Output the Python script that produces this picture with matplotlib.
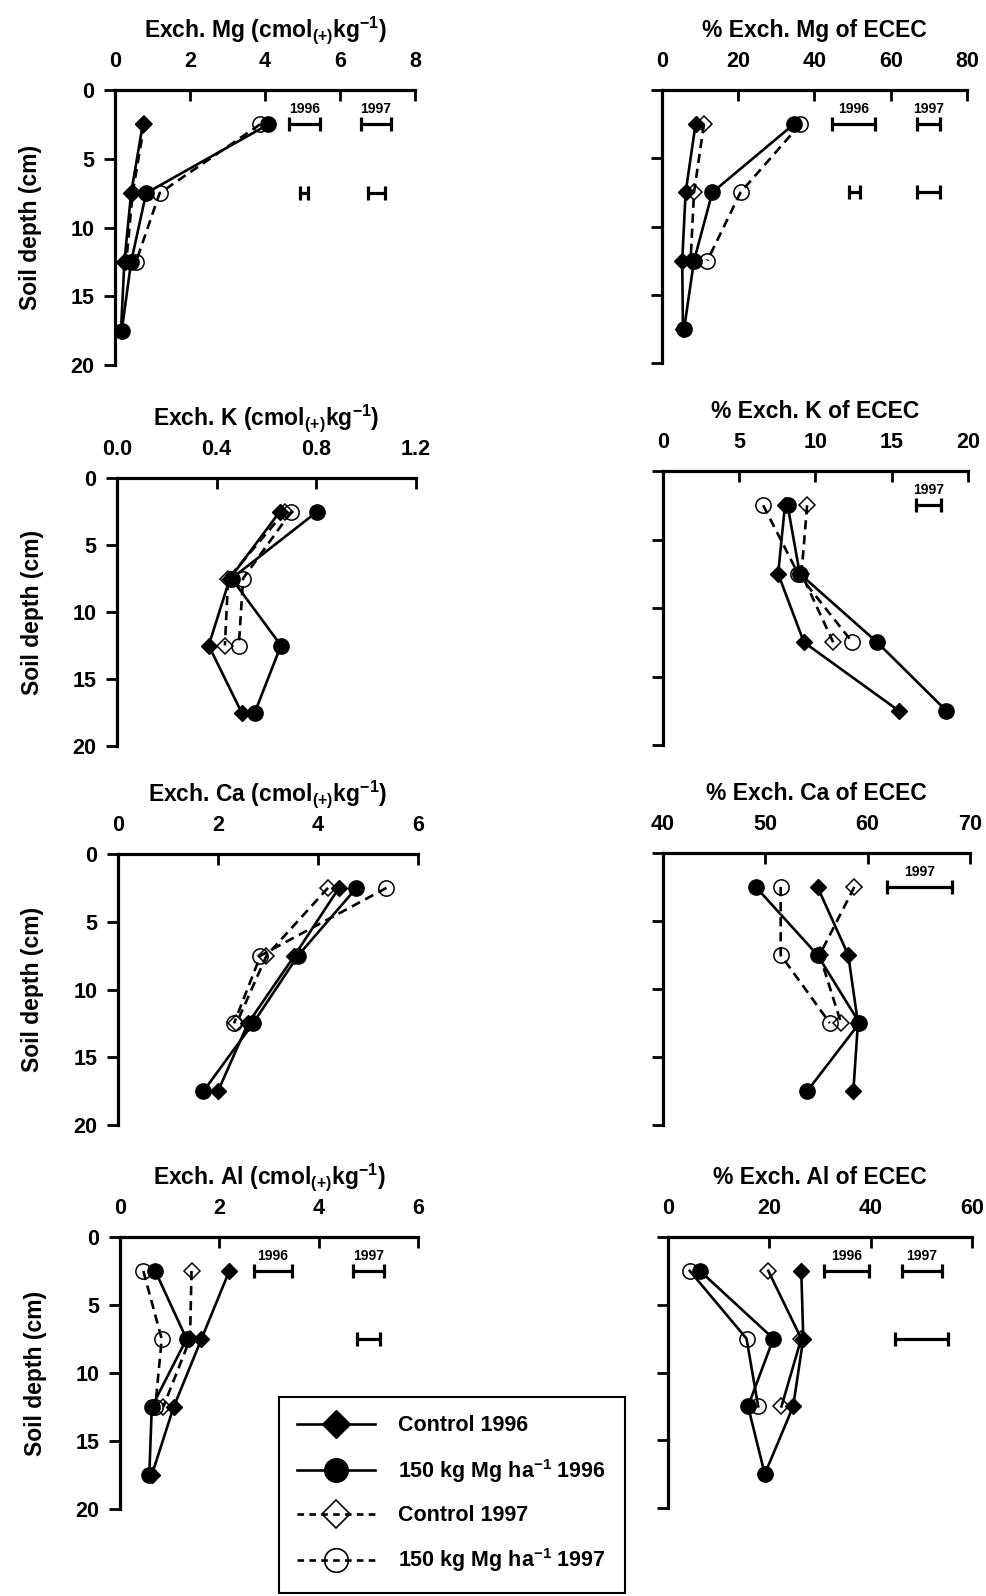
import matplotlib.pyplot as plt
from matplotlib.lines import Line2D

plt.rcParams['font.family'] = 'Liberation Sans'
plt.rcParams['font.weight'] = 'bold'
plt.rcParams['mathtext.fontset'] = 'custom'
plt.rcParams['mathtext.rm'] = 'Liberation Sans:bold'
plt.rcParams['mathtext.bf'] = 'Liberation Sans:bold'
plt.rcParams['mathtext.it'] = 'Liberation Sans:bold'

# sampling depths (cm), 1997 has no 15-20 cm layer
depth96 = [2.5, 7.5, 12.5, 17.5]
depth97 = [2.5, 7.5, 12.5]

# exchangeable Mg
mg_c96 = [0.74, 0.43, 0.25, 0.16]
mg_m96 = [4.09, 0.83, 0.43, 0.18]
mg_c97 = [0.78, 0.47, 0.30]
mg_m97 = [3.87, 1.19, 0.56]
mg_lsd = [(2.5, 4.65, 5.46, '1996'), (2.5, 6.57, 7.35, '1997'),
          (7.5, 4.94, 5.16, ''), (7.5, 6.75, 7.21, '')]

mgp_c96 = [8.8, 6.2, 5.3, 5.5]
mgp_m96 = [34.6, 13.2, 8.4, 5.8]
mgp_c97 = [11.0, 8.4, 7.5]
mgp_m97 = [36.3, 20.6, 11.9]
mgp_lsd = [(2.5, 44.6, 56.0, '1996'), (2.5, 67.0, 73.0, '1997'),
           (7.5, 49.0, 52.0, ''), (7.5, 67.0, 73.0, '')]

# exchangeable K
k_c96 = [0.654, 0.453, 0.368, 0.50]
k_m96 = [0.804, 0.46, 0.658, 0.553]
k_c97 = [0.674, 0.446, 0.433]
k_m97 = [0.70, 0.506, 0.489]
k_lsd = []

kp_c96 = [8.0, 7.55, 9.24, 15.46]
kp_m96 = [8.17, 8.97, 14.04, 18.58]
kp_c97 = [9.45, 9.08, 11.16]
kp_m97 = [6.57, 8.86, 12.42]
kp_lsd = [(2.5, 16.6, 18.25, '1997')]

# exchangeable Ca
ca_c96 = [4.42, 3.53, 2.6, 2.0]
ca_m96 = [4.77, 3.6, 2.7, 1.71]
ca_c97 = [4.2, 2.97, 2.37]
ca_m97 = [5.37, 2.85, 2.32]
ca_lsd = []

cap_c96 = [55.1, 58.1, 59.05, 58.6]
cap_m96 = [49.07, 55.1, 59.2, 54.1]
cap_c97 = [58.7, 55.3, 57.4]
cap_m97 = [51.5, 51.5, 56.3]
cap_lsd = [(2.5, 61.9, 68.2, '1997')]

# exchangeable Al
al_c96 = [2.2, 1.64, 1.08, 0.64]
al_m96 = [0.71, 1.34, 0.64, 0.59]
al_c97 = [1.44, 1.41, 0.87]
al_m97 = [0.47, 0.84, 0.71]
al_lsd = [(2.5, 2.69, 3.46, '1996'), (2.5, 4.69, 5.31, '1997'),
          (7.5, 4.77, 5.23, '')]

alp_c96 = [26.3, 26.7, 24.7, 19.1]
alp_m96 = [6.3, 20.8, 15.8, 19.1]
alp_c97 = [19.8, 26.3, 22.4]
alp_m97 = [4.3, 15.5, 17.8]
alp_lsd = [(2.5, 30.8, 39.7, '1996'), (2.5, 46.1, 54.0, '1997'),
           (7.5, 44.8, 55.3, '')]

W, H = 987, 1596
fig = plt.figure(figsize=(W / 100, H / 100), dpi=100)


def make_axes(left, top, width, height):
    return fig.add_axes([left / W, 1 - (top + height) / H, width / W, height / H])


def draw_panel(box, title, xlim, xticks, xticklabels, series, lsd,
               left_col=True, dashed97=True):
    ax = make_axes(*box)
    c96, m96, c97, m97 = series
    ls97 = '--' if dashed97 else '-'
    dash = (3.5, 2.2) if dashed97 else (None, None)
    ax.plot(m97, depth97, ls=ls97, dashes=dash, color='k', lw=1.9,
            marker='o', ms=11, mfc='none', mec='k', mew=1.1)
    ax.plot(c97, depth97, ls=ls97, dashes=dash, color='k', lw=1.9,
            marker='D', ms=8, mfc='none', mec='k', mew=1.1)
    ax.plot(m96, depth96, '-', color='k', lw=1.9, marker='o', ms=11, mfc='k', mec='k')
    ax.plot(c96, depth96, '-', color='k', lw=1.9, marker='D', ms=8, mfc='k', mec='k')

    # LSD bars with the year written above
    for d, lo, hi, lab in lsd:
        ax.errorbar((lo + hi) / 2, d, xerr=(hi - lo) / 2, fmt='none', ecolor='k',
                    elinewidth=2.3, capsize=5, capthick=2.3)
        if lab:
            ax.text((lo + hi) / 2, 1.7, lab, ha='center', va='baseline',
                    fontsize=10, fontweight='bold')

    ax.set_xlim(*xlim)
    ax.set_ylim(20, 0)
    ax.xaxis.tick_top()
    ax.set_xticks(xticks)
    ax.set_xticklabels(xticklabels)
    ax.set_yticks([0, 5, 10, 15, 20])
    for s in ('right', 'bottom'):
        ax.spines[s].set_visible(False)
    for s in ('left', 'top'):
        ax.spines[s].set_linewidth(2.3)
    ax.tick_params(axis='x', direction='in', length=8, width=2, pad=13, labelsize=15.5)
    ax.tick_params(axis='y', direction='out', length=8, width=2, pad=7, labelsize=15.5,
                   labelleft=left_col)
    ax.set_title(title, fontsize=16.5, fontweight='bold', pad=10)
    if left_col:
        ax.set_ylabel('Soil depth (cm)', fontsize=16.5, fontweight='bold')
        ax.yaxis.set_label_coords(-0.245, 0.5)
    return ax


unit = r'(cmol$_{(+)}$kg$^{-1}$)'

draw_panel((115, 90, 300, 275), 'Exch. Mg ' + unit, (0, 8), [0, 2, 4, 6, 8],
           ['0', '2', '4', '6', '8'], (mg_c96, mg_m96, mg_c97, mg_m97), mg_lsd)
draw_panel((662, 90, 305, 273), '% Exch. Mg of ECEC', (0, 80), [0, 20, 40, 60, 80],
           ['0', '20', '40', '60', '80'], (mgp_c96, mgp_m96, mgp_c97, mgp_m97),
           mgp_lsd, left_col=False)

draw_panel((117, 478, 299, 268), 'Exch. K ' + unit, (0, 1.2), [0, 0.4, 0.8, 1.2],
           ['0.0', '0.4', '0.8', '1.2'], (k_c96, k_m96, k_c97, k_m97), k_lsd)
draw_panel((663, 471, 305, 274), '% Exch. K of ECEC', (0, 20), [0, 5, 10, 15, 20],
           ['0', '5', '10', '15', '20'], (kp_c96, kp_m96, kp_c97, kp_m97),
           kp_lsd, left_col=False)

draw_panel((118, 854, 300, 271), 'Exch. Ca ' + unit, (0, 6), [0, 2, 4, 6],
           ['0', '2', '4', '6'], (ca_c96, ca_m96, ca_c97, ca_m97), ca_lsd)
draw_panel((663, 853, 307, 272), '% Exch. Ca of ECEC', (40, 70), [40, 50, 60, 70],
           ['40', '50', '60', '70'], (cap_c96, cap_m96, cap_c97, cap_m97),
           cap_lsd, left_col=False)

draw_panel((120, 1237, 298, 272), 'Exch. Al ' + unit, (0, 6), [0, 2, 4, 6],
           ['0', '2', '4', '6'], (al_c96, al_m96, al_c97, al_m97), al_lsd)
draw_panel((668, 1237, 304, 271), '% Exch. Al of ECEC', (0, 60), [0, 20, 40, 60],
           ['0', '20', '40', '60'], (alp_c96, alp_m96, alp_c97, alp_m97),
           alp_lsd, left_col=False, dashed97=False)

# shared legend
handles = [
    Line2D([], [], color='k', lw=1.9, marker='D', ms=14, mfc='k', mec='k'),
    Line2D([], [], color='k', lw=1.9, marker='o', ms=17, mfc='k', mec='k'),
    Line2D([], [], color='k', lw=1.9, ls='--', dashes=(2.5, 2), marker='D', ms=14,
           mfc='none', mec='k', mew=1.2),
    Line2D([], [], color='k', lw=1.9, ls='--', dashes=(2.5, 2), marker='o', ms=17,
           mfc='none', mec='k', mew=1.2),
]
labels = ['Control 1996', r'150 kg Mg ha$^{-1}$ 1996', 'Control 1997',
          r'150 kg Mg ha$^{-1}$ 1997']
leg = fig.legend(handles, labels, loc='upper left',
                 bbox_to_anchor=(279 / W, 1 - 1397 / H), frameon=True,
                 fancybox=False, edgecolor='k', framealpha=1,
                 handlelength=3.6, handletextpad=1.1, labelspacing=0.95,
                 borderpad=0.85, borderaxespad=0, numpoints=1,
                 prop={'weight': 'bold', 'size': 15.5})
leg.get_frame().set_linewidth(1.5)

fig.savefig('out.png', dpi=100)
